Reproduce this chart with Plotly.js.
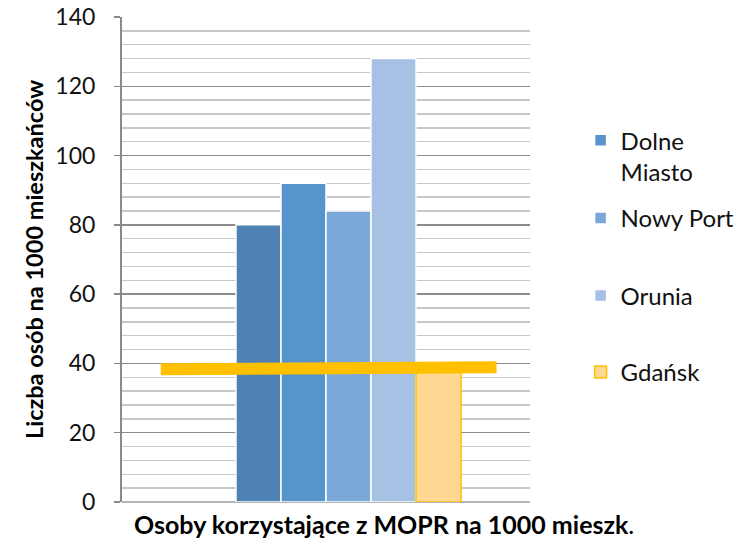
<!DOCTYPE html>
<html>
<head>
<meta charset="utf-8">
<script src="https://cdn.plot.ly/plotly-3.0.1.min.js"></script>
<style>html,body{margin:0;padding:0;background:#fff;}#chart{width:748px;height:542px;}</style>
</head>
<body>
<div id="chart"></div>
<script>
// ---- data ----
const categories = ['Osoby korzystające z MOPR na 1000 mieszk.'];
const seriesNames = ['Seria 1', 'Seria 2', 'Dolne Miasto', 'Nowy Port', 'Orunia', 'Gdańsk'];
const seriesValues = [null, 80, 92, 84, 128, 37.5];
const seriesInLegend = [false, false, true, true, true, true];
const gdanskLineX = [-0.405, 0.418];
const gdanskLineY = [38.3, 38.9];
const yTickVals = [0, 20, 40, 60, 80, 100, 120, 140];

// ---- styles ----
const FONT = 'Lato, "Open Sans", sans-serif';
const colors = ['#4f81b5', '#4f81b5', '#5694cb', '#7ba7d9', '#a6c1e4', '#ffd994'];
const borders = ['#ffffff', '#ffffff', '#ffffff', '#ffffff', '#ffffff', '#ffc000'];
const legendIds = [null, null, 'legend', 'legend2', 'legend3', 'legend4'];

const traces = seriesNames.map((n, i) => ({
  type: 'bar',
  x: categories,
  y: [seriesValues[i]],
  name: n === 'Dolne Miasto' ? 'Dolne<br>Miasto' : n,
  marker: {color: colors[i], line: {color: borders[i], width: 1.5}},
  showlegend: seriesInLegend[i],
  legend: legendIds[i] || 'legend',
  hoverinfo: 'skip'
}));

traces.push({
  type: 'scatter', mode: 'lines',
  x: gdanskLineX, y: gdanskLineY,
  xaxis: 'x2', yaxis: 'y',
  line: {color: '#ffc000', width: 12},
  showlegend: false, hoverinfo: 'skip'
});

const cat = categories[0];
const legendBase = {
  x: 1.124, xanchor: 'left', yanchor: 'middle',
  font: {family: FONT, size: 24, color: '#111'},
  bgcolor: 'rgba(0,0,0,0)', itemwidth: 30, valign: 'top',
  itemclick: false, itemdoubleclick: false
};

const layout = {
  width: 748, height: 542,
  margin: {l: 122, r: 218, t: 17, b: 40, pad: 0, autoexpand: false},
  paper_bgcolor: '#ffffff', plot_bgcolor: '#ffffff',
  barmode: 'group', bargap: 0.338, bargroupgap: 0,
  xaxis: {
    type: 'category', range: [-0.5, 0.5], showticklabels: false,
    showgrid: false, showline: false, ticks: '', zeroline: false, fixedrange: true
  },
  xaxis2: {overlaying: 'x', range: [-0.5, 0.5], visible: false, type: 'linear', fixedrange: true},
  yaxis: {
    range: [0, 140], tickvals: yTickVals, ticks: 'outside', ticklen: 6,
    tickcolor: '#8a8a8a', tickwidth: 1.5,
    showline: true, linecolor: '#8a8a8a', linewidth: 2,
    showgrid: true, gridcolor: '#8c8c8c', gridwidth: 1.5,
    zeroline: true, zerolinecolor: '#b4b4b4', zerolinewidth: 1.5,
    minor: {dtick: 4, tick0: 0, showgrid: true, gridcolor: '#c8c8c8', gridwidth: 1.5, ticks: ''},
    ticklabelstandoff: 14,
    tickfont: {family: FONT, size: 23, color: '#111'},
    title: {text: '<b>Liczba osób na 1000 mieszkańców</b>', standoff: 5,
            font: {family: FONT, size: 23.5, color: '#000'}},
    fixedrange: true
  },
  legend: Object.assign({}, legendBase, {y: 0.713}),
  legend2: Object.assign({}, legendBase, {y: 0.5845}),
  legend3: Object.assign({}, legendBase, {y: 0.4247}),
  legend4: Object.assign({}, legendBase, {y: 0.267}),
  annotations: [{
    text: '<b>' + cat.slice(0, -1) + '</b>' + cat.slice(-1),
    xref: 'paper', yref: 'paper', x: 0.642, y: -0.045,
    xanchor: 'center', yanchor: 'middle', showarrow: false,
    font: {family: FONT, size: 25, color: '#000'}
  }]
};

Plotly.newPlot('chart', traces, layout, {displayModeBar: false, staticPlot: true});
</script>
</body>
</html>
